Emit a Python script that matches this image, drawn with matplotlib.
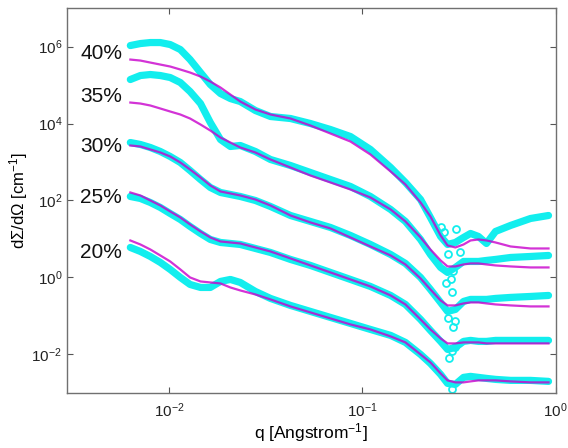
import numpy as np
import matplotlib
matplotlib.use("Agg")
import matplotlib.pyplot as plt
from matplotlib.ticker import FixedLocator, NullLocator, FuncFormatter

plt.rcParams['font.family'] = ['Liberation Sans', 'DejaVu Sans']
plt.rcParams['mathtext.fontset'] = 'custom'
plt.rcParams['mathtext.rm'] = 'Liberation Sans'
plt.rcParams['mathtext.it'] = 'Liberation Sans:italic'
plt.rcParams['mathtext.sf'] = 'Liberation Sans'

# scattering vector q [1/Angstrom], common to every curve
q = [0.00628, 0.00708, 0.00797, 0.00898, 0.0101, 0.0114, 0.0128, 0.0145,
     0.0163, 0.0184, 0.0207, 0.0233, 0.0279, 0.0334, 0.0424, 0.0538,
     0.0683, 0.0867, 0.110, 0.140, 0.167, 0.200, 0.225, 0.254, 0.276,
     0.303, 0.334, 0.363, 0.399, 0.439, 0.489, 0.585, 0.742, 0.920]

labels = ['40%', '35%', '30%', '25%', '20%']

# log10 of dSigma/dOmega, measured (cyan) and model fit (magenta)
logI_data_40 = [6.026, 6.078, 6.104, 6.104, 6.052, 5.922, 5.662, 5.325, 5.013,
                4.779, 4.649, 4.571, 4.338, 4.182, 4.130, 4.000, 3.844, 3.662,
                3.325, 2.857, 2.468, 2.026, 1.558, 1.065, 0.857, 0.909, 1.039,
                1.143, 1.065, 0.883, 1.195, 1.351, 1.532, 1.610]
logI_fit_40 = [5.662, 5.636, 5.584, 5.532, 5.481, 5.403, 5.325, 5.221, 5.091,
               4.935, 4.753, 4.571, 4.364, 4.234, 4.130, 3.948, 3.740, 3.532,
               3.195, 2.753, 2.416, 1.948, 1.584, 1.091, 0.831, 0.779, 0.857,
               0.961, 0.987, 0.961, 0.909, 0.805, 0.753, 0.753]

logI_data_35 = [5.143, 5.247, 5.273, 5.247, 5.195, 5.065, 4.831, 4.519, 4.026,
                3.584, 3.403, 3.429, 3.273, 3.065, 2.909, 2.727, 2.545, 2.364,
                2.104, 1.766, 1.455, 0.987, 0.597, 0.260, 0.130, 0.260, 0.416,
                0.416, 0.416, 0.442, 0.468, 0.519, 0.545, 0.571]
logI_fit_35 = [4.545, 4.519, 4.468, 4.390, 4.312, 4.234, 4.130, 3.974, 3.818,
               3.636, 3.506, 3.377, 3.247, 3.065, 2.857, 2.649, 2.468, 2.286,
               2.078, 1.766, 1.455, 1.039, 0.727, 0.442, 0.286, 0.286, 0.338,
               0.364, 0.364, 0.338, 0.312, 0.286, 0.260, 0.260]

logI_data_30 = [3.506, 3.455, 3.377, 3.273, 3.143, 2.987, 2.779, 2.545, 2.338,
                2.208, 2.156, 2.104, 2.000, 1.844, 1.610, 1.455, 1.299, 1.091,
                0.857, 0.597, 0.364, 0.000, -0.312, -0.649, -0.883, -0.831,
                -0.623, -0.571, -0.571, -0.571, -0.545, -0.519, -0.494, -0.468]
logI_fit_30 = [3.429, 3.403, 3.325, 3.247, 3.143, 2.987, 2.805, 2.597, 2.390,
               2.234, 2.182, 2.130, 2.026, 1.870, 1.610, 1.429, 1.273, 1.039,
               0.805, 0.571, 0.338, -0.026, -0.312, -0.597, -0.727, -0.727,
               -0.675, -0.649, -0.649, -0.675, -0.701, -0.727, -0.753, -0.753]

logI_data_25 = [2.104, 2.052, 1.948, 1.818, 1.662, 1.506, 1.325, 1.143, 0.987,
                0.909, 0.883, 0.857, 0.753, 0.649, 0.468, 0.312, 0.130, -0.052,
                -0.234, -0.468, -0.701, -1.091, -1.377, -1.662, -1.870, -1.818,
                -1.662, -1.636, -1.662, -1.662, -1.636, -1.636, -1.636, -1.636]
logI_fit_25 = [2.208, 2.130, 2.000, 1.870, 1.714, 1.558, 1.377, 1.195, 1.039,
               0.935, 0.909, 0.883, 0.779, 0.675, 0.494, 0.312, 0.130, -0.052,
               -0.234, -0.468, -0.701, -1.091, -1.351, -1.584, -1.714, -1.714,
               -1.688, -1.688, -1.688, -1.714, -1.714, -1.714, -1.714, -1.714]

logI_data_20 = [0.779, 0.675, 0.545, 0.390, 0.208, 0.000, -0.182, -0.260, -0.260,
                -0.104, -0.052, -0.130, -0.364, -0.545, -0.727, -0.883, -1.039,
                -1.195, -1.351, -1.506, -1.688, -2.000, -2.234, -2.519, -2.753,
                -2.779, -2.597, -2.571, -2.597, -2.623, -2.649, -2.675, -2.675,
                -2.701]
logI_fit_20 = [0.961, 0.857, 0.727, 0.571, 0.416, 0.208, 0.000, -0.104, -0.130,
               -0.156, -0.260, -0.338, -0.442, -0.571, -0.753, -0.909, -1.065,
               -1.221, -1.351, -1.532, -1.688, -2.000, -2.208, -2.494, -2.675,
               -2.727, -2.727, -2.701, -2.675, -2.675, -2.675, -2.701, -2.727,
               -2.727]

# scattered points around the minimum near q ~ 0.28
outlier_q = [0.256, 0.263, 0.279, 0.307, 0.322, 0.272, 0.286, 0.295, 0.292,
             0.279, 0.303, 0.295, 0.282, 0.292, 0.303, 0.292]
outlier_I = [19.9, 14.8, 3.96, 17.7, 4.7, 0.70, 0.89, 1.43, 0.41, 0.091,
             0.072, 0.053, 0.0079, 0.012, 0.0152, 0.00123]

data_sets = [logI_data_40, logI_data_35, logI_data_30, logI_data_25, logI_data_20]
fit_sets = [logI_fit_40, logI_fit_35, logI_fit_30, logI_fit_25, logI_fit_20]

cyan = '#12eeee'
magenta = '#c800cc'

fig = plt.figure(figsize=(5.68, 4.48), dpi=100)
ax = fig.add_axes([0.118, 0.123, 0.860, 0.859])

for d in data_sets:
    ax.plot(q, 10 ** np.array(d), color=cyan, lw=5.2,
            solid_capstyle='round', solid_joinstyle='round', zorder=1)
ax.plot(outlier_q, outlier_I, 'o', mfc='none', mec=cyan, ms=5, mew=1.3, zorder=1)
for f in fit_sets:
    ax.plot(q, 10 ** np.array(f), color=magenta, alpha=0.8, lw=1.6, zorder=3)

ax.set_xscale('log')
ax.set_yscale('log')
ax.set_xlim(10 ** -2.53, 1.0)
ax.set_ylim(1e-3, 1e7)

ax.xaxis.set_major_locator(FixedLocator([1e-2, 1e-1, 1e0]))
ax.yaxis.set_major_locator(FixedLocator([1e-2, 1e0, 1e2, 1e4, 1e6]))
ax.xaxis.set_minor_locator(NullLocator())
ax.yaxis.set_minor_locator(NullLocator())
fmt = FuncFormatter(lambda v, p: r'$10^{%d}$' % round(np.log10(v)))
ax.xaxis.set_major_formatter(fmt)
ax.yaxis.set_major_formatter(fmt)
ax.tick_params(which='both', direction='in', length=4, width=0.8,
               color='#555555', labelsize=11, top=True, right=True,
               labelcolor='#222222')
ax.tick_params(axis='x', pad=6)
for s in ax.spines.values():
    s.set_color('#707070')
    s.set_linewidth(1.0)

label_y = [0.883, 0.769, 0.639, 0.509, 0.366]
for lab, yy in zip(labels, label_y):
    ax.text(0.027, yy, lab, transform=ax.transAxes, fontsize=15,
            va='center', ha='left', color='#111111')

ax.set_xlabel(r'q [Angstrom$^{-1}$]', fontsize=12.5, labelpad=1)
ax.set_ylabel(r'd$\Sigma$/d$\Omega$ [cm$^{-1}$]', fontsize=12, labelpad=1)

fig.savefig('out.png', dpi=100)
